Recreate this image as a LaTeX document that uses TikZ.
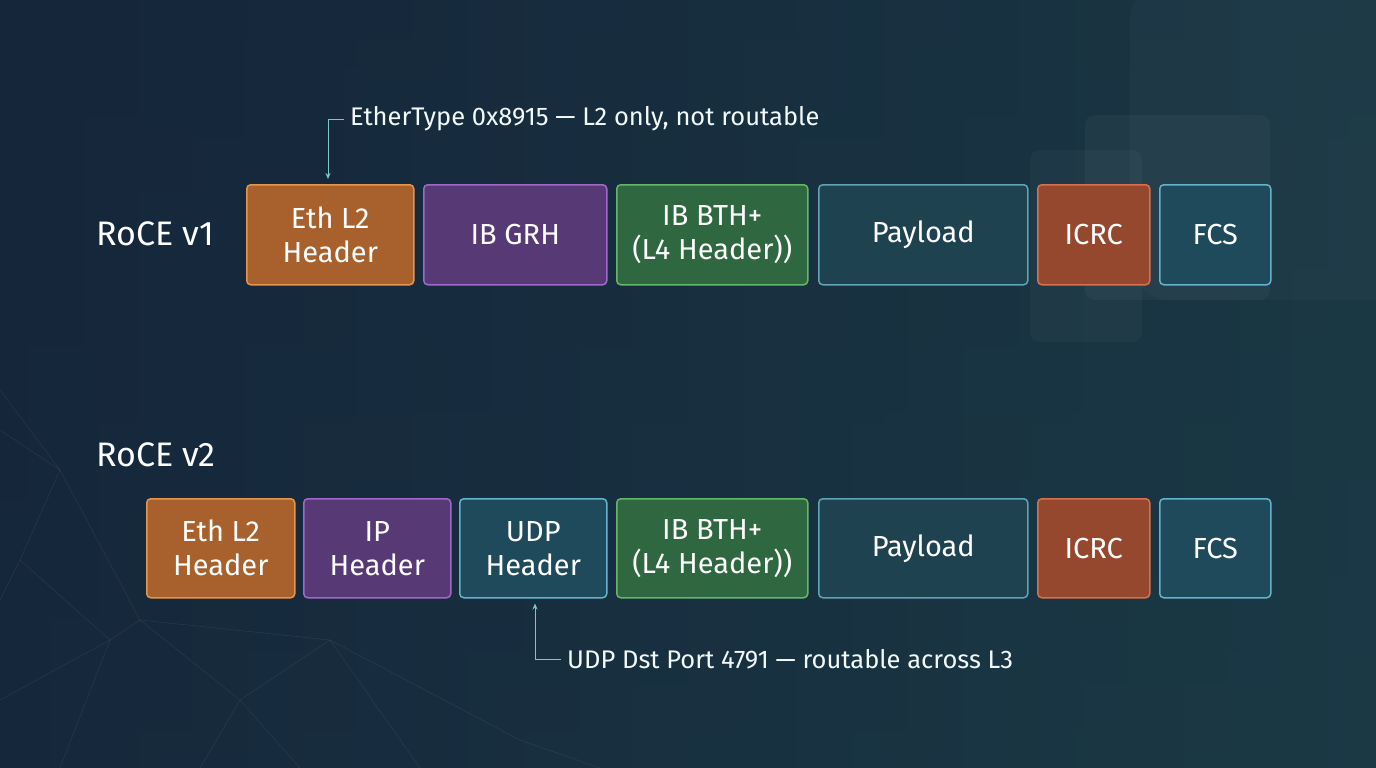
\documentclass[tikz,border=0pt]{standalone}
\usepackage{fontspec}
\setmainfont{Fira Sans}
\usetikzlibrary{arrows.meta}
\definecolor{bgA}{HTML}{15253A}
\definecolor{bgB}{HTML}{1C3E48}
\definecolor{oF}{HTML}{A8612C}\definecolor{oB}{HTML}{E8954A}
\definecolor{pF}{HTML}{573A75}\definecolor{pB}{HTML}{A068C8}
\definecolor{gF}{HTML}{2F6840}\definecolor{gB}{HTML}{62B868}
\definecolor{tF}{HTML}{1F4250}\definecolor{tB}{HTML}{5EA4B4}
\definecolor{rF}{HTML}{96482E}\definecolor{rB}{HTML}{D8704A}
\definecolor{cF}{HTML}{1E4A5C}\definecolor{cB}{HTML}{62B4CC}
\definecolor{ann}{HTML}{7CC8C8}
\tikzset{
 pk/.style={draw=#1B, fill=#1F, line width=1.5pt, rounded corners=4pt, anchor=north west,
   text=white, font=\fontsize{29}{34}\selectfont, align=center, inner sep=0pt},
 lab/.style={text=white, font=\fontsize{34}{38}\selectfont, anchor=west, inner sep=0pt},
 note/.style={text=white!90!ann, font=\fontsize{25.5}{28}\selectfont, anchor=west, inner sep=0pt},
 arr/.style={draw=ann, line width=1pt, -{Stealth[length=6pt,width=5pt]}}
}
\newcommand{\pkt}[7]{\node[pk=#2, minimum width=#5pt, minimum height=#6pt] (#1) at (#3pt,-#4pt) {#7};}
\begin{document}
\begin{tikzpicture}[x=1pt,y=1pt]
\useasboundingbox (0,0) rectangle (1376,-768);
\shade[top color=bgA, bottom color=bgA!60!bgB] (0,0) rectangle (1376,-768);
\shade[left color=bgA, right color=bgB, opacity=0.7] (0,0) rectangle (1376,-768);
\fill[white, opacity=0.025, rounded corners=40pt] (1130,20) rectangle (1420,-300);
\fill[white, opacity=0.035, rounded corners=10pt] (1085,-115) rectangle (1270,-300);
\fill[white, opacity=0.03, rounded corners=10pt] (1030,-150) rectangle (1142,-342);
\begin{scope}[draw=white, opacity=0.07, line width=0.6pt]
\draw (0,-390) -- (60,-470) -- (20,-560) -- (110,-640) -- (60,-768);
\draw (60,-470) -- (140,-620) -- (110,-640);
\draw (20,-560) -- (0,-600); \draw (140,-620) -- (240,-700) -- (200,-768);
\draw (110,-640) -- (0,-700); \draw (240,-700) -- (330,-640) -- (420,-768);
\draw (140,-620) -- (330,-640); \draw (0,-430) -- (60,-470);
\draw (240,-700) -- (300,-768); \draw (330,-640) -- (520,-740) -- (600,-768);
\end{scope}
\node[lab] (v1) at (96,-234) {RoCE v1};
\node[lab] (v2) at (96,-455) {RoCE v2};
% row 1
\pkt{a1}{o}{246}{184}{167}{100}{Eth L2\\Header}
\pkt{b1}{p}{423}{184}{183}{100}{IB GRH}
\pkt{c1}{g}{616}{184}{191}{100}{IB BTH+\\(L4 Header))}
\pkt{d1}{t}{818}{184}{209}{100}{Payload}
\pkt{e1}{r}{1037}{184}{112}{100}{ICRC}
\pkt{f1}{c}{1159}{184}{111}{100}{FCS}
% row 2
\pkt{a2}{o}{146}{498}{148}{99}{Eth L2\\Header}
\pkt{b2}{p}{303}{498}{147}{99}{IP\\Header}
\pkt{u2}{c}{459}{498}{147}{99}{UDP\\Header}
\pkt{c2}{g}{616}{498}{191}{99}{IB BTH+\\(L4 Header))}
\pkt{d2}{t}{818}{498}{209}{99}{Payload}
\pkt{e2}{r}{1037}{498}{112}{99}{ICRC}
\pkt{f2}{c}{1159}{498}{111}{99}{FCS}
% annotations
\node[note] (n1) at (350,-119) {EtherType 0x8915 — L2 only, not routable};
\coordinate (k1) at (328,-119);
\draw[arr] ([xshift=-6pt]n1.west) -- (k1) -- ([yshift=5pt]a1.north -| k1);
\node[note] (n2) at (567,-659) {UDP Dst Port 4791 — routable across L3};
\coordinate (k2) at (535,-659);
\draw[arr] ([xshift=-6pt]n2.west) -- (k2) -- ([yshift=-5pt]u2.south -| k2);
\end{tikzpicture}
\end{document}
